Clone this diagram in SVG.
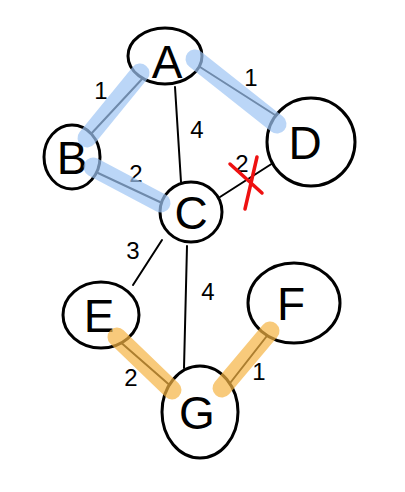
<svg xmlns="http://www.w3.org/2000/svg" width="405" height="492" viewBox="0 0 405 492">
<style>
.hl-b{stroke:#9ec5f4;stroke-opacity:0.7;stroke-width:19;stroke-linecap:round;fill:none}
.hl-o{stroke:#f5b443;stroke-opacity:0.7;stroke-width:19;stroke-linecap:round;fill:none}
.edge{stroke:#000;stroke-width:2;fill:none;stroke-linecap:round}
.node ellipse{fill:#fff;stroke:#000;stroke-width:3}
.node text{font-family:"Liberation Sans",Arial,sans-serif;font-size:46px;text-anchor:middle;fill:#000}
.lbl{font-family:"Liberation Sans",Arial,sans-serif;font-size:24px;text-anchor:middle;fill:#000}
.x{stroke:#ee1111;stroke-width:3.5;stroke-linecap:round;fill:none}
</style>
<rect width="405" height="492" fill="#fff"/>
<g id="connectors">
  <line class="edge" x1="143" y1="78" x2="90" y2="135"/>
  <line class="edge" x1="200" y1="67" x2="275" y2="115"/>
  <line class="edge" x1="175" y1="87" x2="181" y2="182"/>
  <line class="edge" x1="98" y1="173" x2="162" y2="203"/>
  <line class="edge" x1="220" y1="197" x2="273" y2="163"/>
  <line class="edge" x1="162" y1="240" x2="133" y2="285"/>
  <line class="edge" x1="187" y1="246" x2="184" y2="368"/>
  <line class="edge" x1="118" y1="340" x2="173" y2="388"/>
  <line class="edge" x1="227" y1="387" x2="270" y2="332"/>
  <text class="lbl" x="101" y="99">1</text>
  <text class="lbl" x="251" y="86">1</text>
  <text class="lbl" x="197" y="138">4</text>
  <text class="lbl" x="136" y="182">2</text>
  <text class="lbl" x="242" y="172">2</text>
  <text class="lbl" x="133" y="259">3</text>
  <text class="lbl" x="208" y="300">4</text>
  <text class="lbl" x="131" y="386">2</text>
  <text class="lbl" x="259" y="380">1</text>
  <line class="x" x1="230" y1="164" x2="262" y2="193"/>
  <line class="x" x1="257" y1="157" x2="245" y2="209"/>
</g>
<g id="A" class="node"><ellipse cx="165" cy="56" rx="37" ry="28"/><text x="167" y="78">A</text></g>
<g id="B" class="node"><ellipse cx="72" cy="157" rx="28" ry="32"/><text x="72" y="174">B</text></g>
<g id="C" class="node"><ellipse cx="191" cy="212" rx="31" ry="30"/><text x="191" y="229">C</text></g>
<g id="D" class="node"><ellipse cx="311" cy="142" rx="44" ry="44"/><text x="305" y="159">D</text></g>
<g id="E" class="node"><ellipse cx="101" cy="315" rx="38" ry="33"/><text x="99" y="332">E</text></g>
<g id="F" class="node"><ellipse cx="294" cy="303" rx="46" ry="40"/><text x="291" y="320">F</text></g>
<g id="G" class="node"><ellipse cx="200" cy="412" rx="38" ry="46"/><text x="197" y="429">G</text></g>
<g id="highlights">
  <line class="hl-b" x1="140" y1="73" x2="87" y2="138"/>
  <line class="hl-b" x1="195" y1="59" x2="277" y2="124"/>
  <line class="hl-b" x1="93" y1="167" x2="161" y2="203"/>
  <line class="hl-o" x1="117" y1="337" x2="172" y2="390"/>
  <line class="hl-o" x1="270" y1="331" x2="222" y2="388"/>
</g>
</svg>
